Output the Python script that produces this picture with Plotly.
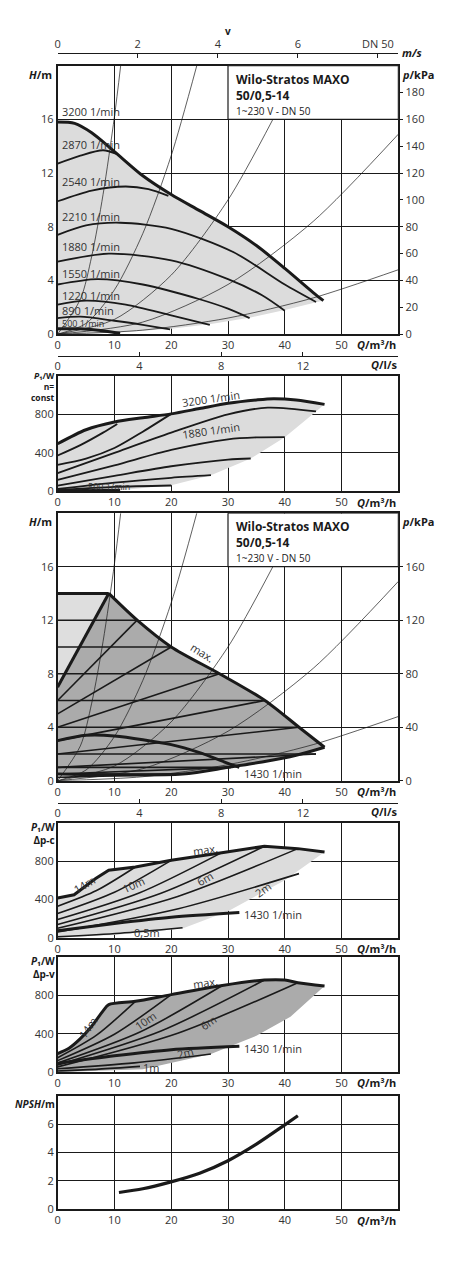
import plotly.graph_objects as go

# ---------- data: H/Q curves (n = const) ----------
q3200 = [0, 3, 6, 10, 15, 20, 25, 30, 35, 40, 45, 46.8]
h3200 = [15.8, 15.7, 15.0, 13.6, 11.8, 10.4, 9.2, 8.0, 6.6, 4.9, 3.1, 2.5]
q2870 = [0, 4, 8, 10.5]
h2870 = [12.7, 13.3, 13.7, 13.4]
q2540 = [0, 6, 12, 16, 19.5]
h2540 = [9.9, 10.7, 11.0, 10.8, 10.3]
q2210 = [0, 5, 11, 20, 31, 40, 45.5]
h2210 = [7.4, 8.1, 8.3, 7.85, 6.1, 3.7, 2.4]
q1880 = [0, 9, 20, 30, 36, 40]
h1880 = [5.4, 6.0, 5.5, 4.1, 2.9, 1.75]
q1550 = [0, 7, 15, 25, 30, 33.8]
h1550 = [3.7, 4.1, 3.7, 2.6, 1.9, 1.2]
q1220 = [0, 5, 12, 20, 26.8]
h1220 = [2.2, 2.5, 2.2, 1.4, 0.7]
q890 = [0, 4, 10, 15, 19.8]
h890 = [1.2, 1.3, 1.0, 0.7, 0.35]
q500 = [0, 4, 8, 11]
h500 = [0.4, 0.4, 0.25, 0.05]
hq_lbl = ["3200 1/min", "2870 1/min", "2540 1/min", "2210 1/min", "1880 1/min",
          "1550 1/min", "1220 1/min", "890 1/min", "500 1/min"]
hq_lbl_h = [16.6, 14.1, 11.4, 8.8, 6.5, 4.5, 2.9, 1.75, 0.8]
q_low = [0, 10, 20, 27, 34, 40, 46.8]
h_low = [0, 0.1, 0.4, 0.75, 1.25, 1.8, 2.5]

# system curves
sys_q = [[0, 4, 6, 8, 10, 11.1], [0, 5, 10, 15, 20, 24.5], [0, 10, 20, 30, 37.9],
         [0, 15, 30, 45, 60], [0, 15, 30, 45, 60]]
sys_h = [[0, 2.6, 5.8, 10.4, 16.2, 20], [0, 0.8, 3.3, 7.5, 13.3, 20], [0, 1.1, 4.4, 10, 16],
         [0, 0.9, 3.7, 8.4, 14.9], [0, 0.3, 1.2, 2.7, 4.8]]

# ---------- P1 n = const ----------
p3200 = [494, 640, 720, 765, 805, 860, 915, 950, 963, 950, 904]
pq3200 = [0, 5, 10, 15, 20, 25, 30, 35, 38, 42, 47]
p_curves_q = [[0, 4, 8, 10.5], [0, 5, 10, 15, 20], [0, 10, 20, 30, 37, 45.5],
              [0, 10, 20, 30, 35, 40], [0, 10, 20, 30, 34], [0, 10, 20, 27], [0, 10, 20]]
p_curves_p = [[372, 480, 610, 700], [275, 340, 450, 620, 805], [188, 400, 610, 800, 870, 831],
              [118, 270, 430, 540, 560, 563], [59, 160, 260, 330, 341], [24, 90, 140, 167],
              [12, 45, 60]]
q500p = [0, 5, 11]
p500 = [5, 8, 10]
pq_low = [0, 11, 20, 27, 34, 40, 45.5, 47]
pp_low = [0, 10, 63, 167, 341, 563, 831, 904]

# ---------- H/Q dp-c / dp-v ----------
q_max = [9, 14, 20, 28.5, 36.5, 42.5, 47]
h_max = [14, 12, 10, 8, 6, 4, 2.5]
hset = [14, 12, 10, 8, 6, 4, 2, 1, 0.5]
qset_end = [9, 14, 20, 28.5, 36.5, 42.5, 45.5, 30.5, 22]
q_low3 = [22, 30, 36, 42, 47]
h_low3 = [0.5, 1.0, 1.4, 1.9, 2.5]
q1430 = [0, 5, 10, 20, 25, 30, 32]
h1430 = [3.0, 3.4, 3.35, 2.7, 2.1, 1.3, 1.0]

# ---------- P1 dp-c ----------
pc_max_q = [0, 2.9, 6.7, 9, 13.7, 20, 28.9, 36.4, 42.3, 47]
pc_max_p = [417, 450, 619, 706, 740, 810, 890, 956, 932, 897]
pc_start = [330, 254, 191, 139, 100, 60, 10]
pc_end_q = [13.7, 20, 28.9, 36.4, 42.3, 42.5, 22]
pc_end_p = [740, 810, 890, 956, 932, 671, 105]
pc_low_q = [0, 10, 22, 30, 40, 47]
pc_low_p = [0, 30, 97, 278, 602, 897]
p1430_q = [0, 10, 20, 32]
p1430_c = [75, 150, 215, 264]
p1430_v = [90, 170, 235, 271]

# ---------- P1 dp-v ----------
pv_max_q = [0, 2, 4, 6, 8, 9, 13.7, 20, 29, 36.4, 40, 42.3, 47]
pv_max_p = [194, 250, 350, 480, 640, 705, 740, 810, 905, 962, 962, 934, 899]
pv_start = [150, 120, 95, 75, 55, 35, 12]
pv_end_q = [13.7, 20, 29, 36.4, 42.3, 27, 14.5]
pv_end_p = [740, 810, 905, 962, 934, 190, 60]
pv_low_q = [0, 15, 27, 35, 41, 47]
pv_low_p = [0, 30, 190, 380, 580, 899]

# ---------- NPSH ----------
npsh_q = [10.8, 15, 19.8, 25, 30, 35, 40, 42.3]
npsh_h = [1.19, 1.45, 1.92, 2.55, 3.43, 4.6, 5.96, 6.6]

FONT = "Open Sans"
BLK = "#1a1a1a"
XD = [0.1214, 0.8786]
fig = go.Figure()


def line(q, y, ax, w=1.8, shape="spline", color=BLK):
    fig.add_trace(go.Scatter(x=q, y=y, xaxis="x" + ax, yaxis="y" + ax, mode="lines",
                             line=dict(color=color, width=w, shape=shape, smoothing=0.8),
                             hoverinfo="skip", showlegend=False))


def poly(q, y, ax, color):
    fig.add_trace(go.Scatter(x=q, y=y, xaxis="x" + ax, yaxis="y" + ax, mode="lines",
                             fill="toself", fillcolor=color, line=dict(width=0),
                             hoverinfo="skip", showlegend=False))


def txt(x, y, s, ax, size=11, angle=0, xanchor="left"):
    fig.add_annotation(x=x, y=y, xref="x" + ax, yref="y" + ax, text=s,
                       showarrow=False, textangle=angle, xanchor=xanchor,
                       font=dict(family=FONT, size=size, color="#333"))


# panel 1
poly(q3200 + q_low[::-1], h3200 + h_low[::-1], "", "#dcdcdc")
for sq, sh in zip(sys_q, sys_h):
    line(sq, sh, "", 0.7)
line(q3200, h3200, "", 3)
for q, h in [(q2870, h2870), (q2540, h2540), (q2210, h2210), (q1880, h1880),
             (q1550, h1550), (q1220, h1220), (q890, h890)]:
    line(q, h, "", 1.8)
line(q500, h500, "", 3)
for s, hh in zip(hq_lbl, hq_lbl_h):
    txt(0.5, hh, s, "", 9 if s.startswith("500") else 11)

# panel 2
poly(pq3200 + pq_low[::-1], p3200 + pp_low[::-1], "2", "#dcdcdc")
line(pq3200, p3200, "2", 3)
for q, p in zip(p_curves_q, p_curves_p):
    line(q, p, "2", 1.8)
line(q500p, p500, "2", 3)
txt(27, 960, "3200 1/min", "2", 11, -8, "center")
txt(27, 630, "1880 1/min", "2", 11, -8, "center")
txt(9, 45, "500 1/min", "2", 9, 0, "center")

# panel 3
poly([0, 9, 0], [7, 14, 14], "3", "#dedede")
poly([0] + q_max + q_low3[::-1] + [0], [7] + h_max + h_low3[::-1] + [0.5], "3", "#ababab")
for sq, sh in zip(sys_q, sys_h):
    line(sq, sh, "3", 0.7)
for h, qe in zip(hset, qset_end):
    line([0, qe], [h, h], "3", 1.6, "linear")
    line([0, qe], [h / 2, h], "3", 1.6, "linear")
line([0, 9], [14, 14], "3", 3, "linear")
line([0, 9], [7, 14], "3", 3, "linear")
line(q_max, h_max, "3", 3)
line([0, 22] + q_low3[1:], [0.5, 0.5] + h_low3[1:], "3", 3)
line(q1430, h1430, "3", 3)
txt(25.5, 9.6, "max.", "3", 11, 32, "center")
txt(32.5, 0.55, "1430 1/min", "3", 11)

# panel 4
poly(pc_max_q + pc_low_q[::-1], pc_max_p + pc_low_p[::-1], "4", "#dcdcdc")
line(pc_max_q, pc_max_p, "4", 3, "linear")
for ps, qe, pe in zip(pc_start, pc_end_q, pc_end_p):
    line([0, qe * 0.5, qe], [ps, ps + (pe - ps) * 0.4, pe], "4", 1.6)
line(p1430_q, p1430_c, "4", 3)
txt(32.5, 240, "1430 1/min", "4", 11)
txt(26, 920, "max.", "4", 11, -8, "center")
txt(4.7, 555, "14m", "4", 11, -30, "center")
txt(13.4, 560, "10m", "4", 11, -25, "center")
txt(26, 615, "6m", "4", 11, -30, "center")
txt(36.2, 500, "2m", "4", 11, -35, "center")
txt(15.7, 55, "0,5m", "4", 11, 0, "center")

# panel 5
poly(pv_max_q + pv_low_q[::-1], pv_max_p + pv_low_p[::-1], "5", "#ababab")
line(pv_max_q, pv_max_p, "5", 3)
for ps, qe, pe in zip(pv_start, pv_end_q, pv_end_p):
    line([0, qe * 0.5, qe], [ps, ps + (pe - ps) * 0.4, pe], "5", 1.6)
line(p1430_q, p1430_v, "5", 3)
txt(32.5, 245, "1430 1/min", "5", 11)
txt(26, 935, "max.", "5", 11, -8, "center")
txt(5.3, 470, "14m", "5", 11, -55, "center")
txt(15.5, 540, "10m", "5", 11, -35, "center")
txt(26.5, 520, "6m", "5", 11, -35, "center")
txt(22.5, 205, "2m", "5", 11, -15, "center")
txt(16.5, 45, "1m", "5", 11, 0, "center")

# panel 6
line(npsh_q, npsh_h, "6", 3.2)

# dummy traces for secondary axes
for xa, ya in [("x7", "y"), ("x8", "y"), ("x9", "y3"), ("x", "y7"), ("x3", "y8")]:
    fig.add_trace(go.Scatter(x=[None], y=[None], xaxis=xa, yaxis=ya, showlegend=False))

panels = [("", [0.7375, 0.9484], [0, 20], 4), ("2", [0.6141, 0.7047], [0, 1200], 400),
          ("3", [0.3867, 0.5969], [0, 20], 4), ("4", [0.2633, 0.3535], [0, 1200], 400),
          ("5", [0.1578, 0.2480], [0, 1200], 400), ("6", [0.05, 0.1391], [0, 8], 2)]
tf = dict(family=FONT, size=11, color="#333")
lay = {}
for ax, dom, yr, dt in panels:
    tv = list(range(0, yr[1], dt))
    lay["xaxis" + ax] = dict(domain=XD, range=[0, 60], anchor="y" + ax, tickvals=[0, 10, 20, 30, 40, 50],
                             showgrid=True, gridcolor=BLK, gridwidth=0.8, zeroline=False,
                             showline=True, linecolor=BLK, linewidth=1.5, mirror=True,
                             ticks="", tickfont=tf)
    lay["yaxis" + ax] = dict(domain=dom, range=yr, anchor="x" + ax, tickvals=tv,
                             showgrid=True, gridcolor=BLK, gridwidth=0.8, zeroline=False,
                             showline=True, linecolor=BLK, linewidth=1.5, mirror=True,
                             ticks="", tickfont=tf)
    fig.add_annotation(x=0.8786, y=dom[0] - 0.0085, xref="paper", yref="paper", xanchor="right",
                       yanchor="middle", text="<b><i>Q</i>/m³/h</b>", showarrow=False,
                       font=dict(family=FONT, size=11, color=BLK))

lay["yaxis7"] = dict(overlaying="y", side="right", anchor="x", range=[0, 200],
                     tickvals=list(range(0, 200, 20)), ticks="outside", ticklen=4, tickcolor=BLK,
                     showgrid=False, zeroline=False, tickfont=tf)
lay["yaxis8"] = dict(overlaying="y3", side="right", anchor="x3", range=[0, 200],
                     tickvals=list(range(0, 200, 40)), ticks="outside", ticklen=4, tickcolor=BLK,
                     showgrid=False, zeroline=False, tickfont=tf)
lay["xaxis7"] = dict(overlaying="x", side="top", anchor="free", position=0.9586, range=[0, 8.51],
                     tickvals=[0, 2, 4, 6, 8], ticktext=["0", "2", "4", "6", "DN 50"],
                     showline=True, linecolor=BLK, linewidth=1.2, ticks="inside", ticklen=4,
                     tickcolor=BLK, showgrid=False, zeroline=False, tickfont=tf)
for name, pos, ov in [("xaxis8", 0.7203, "x"), ("xaxis9", 0.3695, "x3")]:
    lay[name] = dict(overlaying=ov, side="bottom", anchor="free", position=pos, range=[0, 16.667],
                     tickvals=[0, 4, 8, 12], showline=True, linecolor=BLK, linewidth=1.2,
                     ticks="inside", ticklen=4, tickcolor=BLK, showgrid=False, zeroline=False,
                     tickfont=tf)

fig.update_layout(width=453, height=1280, margin=dict(l=0, r=0, t=0, b=0),
                  paper_bgcolor="white", plot_bgcolor="white", **lay)

# title boxes
for ax in ["", "3"]:
    fig.add_shape(type="rect", x0=30, x1=60, y0=16, y1=20, xref="x" + ax, yref="y" + ax,
                  fillcolor="white", line=dict(color=BLK, width=1.2), layer="above")
    fig.add_annotation(x=31, y=19.75, xref="x" + ax, yref="y" + ax, xanchor="left", yanchor="top",
                       align="left", showarrow=False,
                       text="<b>Wilo-Stratos MAXO<br>50/0,5-14</b><br><span style='font-size:10px'>1~230 V - DN 50</span>",
                       font=dict(family=FONT, size=12, color=BLK))


# axis titles
def ptxt(x, y, s, xa="right", size=11, ya="top"):
    fig.add_annotation(x=x, y=y, xref="paper", yref="paper", text=s, showarrow=False,
                       xanchor=xa, yanchor=ya, align=xa, borderpad=0,
                       font=dict(family=FONT, size=size, color=BLK))


ptxt(0.11, 0.9484, "<b><i>H</i>/m</b>")
ptxt(0.885, 0.9484, "<b><i>p</i>/kPa</b>", "left")
ptxt(0.11, 0.5969, "<b><i>H</i>/m</b>")
ptxt(0.885, 0.5969, "<b><i>p</i>/kPa</b>", "left")
ptxt(0.118, 0.7105, "<b><i>P</i>₁/W<br>n=<br>const</b>", "right", 8.5)
ptxt(0.118, 0.3570, "<b><i>P</i>₁/W<br>Δp-c</b>", "right", 10)
ptxt(0.118, 0.2515, "<b><i>P</i>₁/W<br>Δp-v</b>", "right", 10)
ptxt(0.118, 0.1391, "<b><i>NPSH</i>/m</b>", "right", 10)
ptxt(0.5, 0.982, "<b>v</b>", "center", 10)
ptxt(0.885, 0.9586, "<b><i>m/s</i></b>", "left", 11, "middle")
ptxt(0.8786, 0.7135, "<b><i>Q</i>/l/s</b>", "right", 11, "middle")
ptxt(0.8786, 0.3627, "<b><i>Q</i>/l/s</b>", "right", 11, "middle")

fig.write_html("out.html", config={"displayModeBar": False},
               post_script="document.body.style.margin='0';")
